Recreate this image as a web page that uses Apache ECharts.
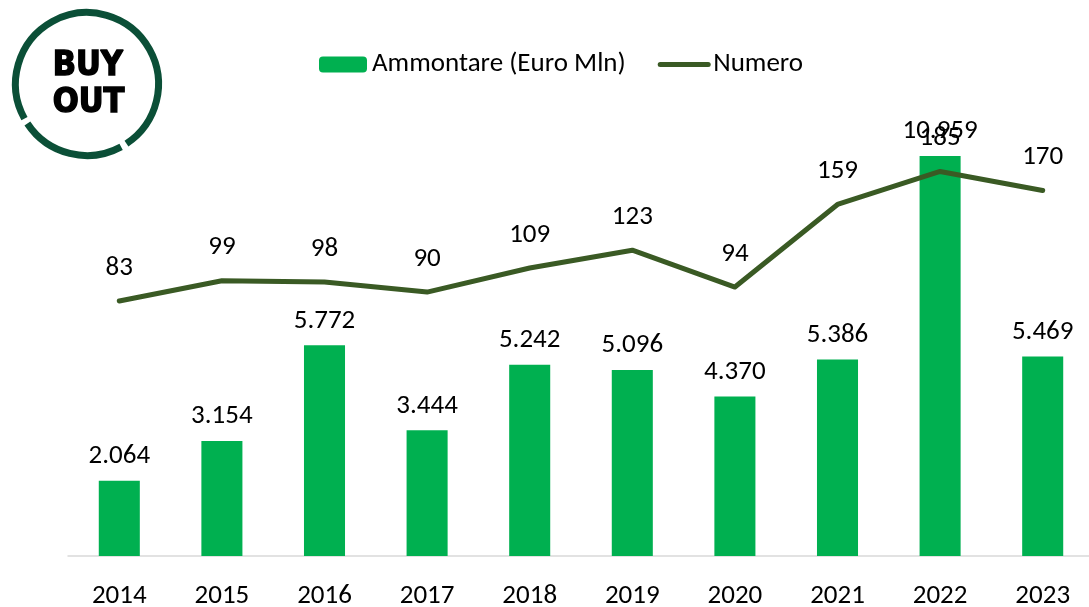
<!DOCTYPE html>
<html>
<head>
<meta charset="utf-8">
<script src="https://cdn.jsdelivr.net/npm/echarts@6/dist/echarts.min.js"></script>
<style>
  html, body { margin: 0; padding: 0; background: #fff; }
  #chart { width: 1089px; height: 607px; }
</style>
</head>
<body>
<div id="chart"></div>
<script>
var anni = ['2014', '2015', '2016', '2017', '2018', '2019', '2020', '2021', '2022', '2023'];
var ammontare = [2064, 3154, 5772, 3444, 5242, 5096, 4370, 5386, 10959, 5469];
var numero = [83, 99, 98, 90, 109, 123, 94, 159, 185, 170];

var FONT = 'Carlito, Calibri, Lato, sans-serif';
var FS = 27;
var VERDE = '#00b050';
var OLIVA = '#3a5a24';
var LOGO = '#0b4f37';

// formato italiano: 10959 -> 10.959
function migliaia(v) {
    return String(v).replace(/\B(?=(\d{3})+(?!\d))/g, '.');
}

var chart = echarts.init(document.getElementById('chart'));

chart.setOption({
    backgroundColor: '#fff',
    animation: false,
    textStyle: { fontFamily: FONT },
    legend: {
        top: 46,
        left: 314,
        itemWidth: 48,
        itemHeight: 16,
        itemGap: 32,
        textStyle: { fontSize: FS, color: '#000', fontFamily: FONT },
        data: [
            'Ammontare (Euro Mln)',
            { name: 'Numero', itemStyle: { opacity: 0 }, lineStyle: { width: 5, color: OLIVA, cap: 'round' } }
        ]
    },
    grid: { left: 68, right: -5, top: 118, bottom: 51, containLabel: false, outerBoundsMode: 'none' },
    xAxis: {
        type: 'category',
        data: anni,
        axisTick: { show: false },
        axisLine: { lineStyle: { color: '#d9d9d9', width: 1.5 } },
        axisLabel: { fontSize: FS, color: '#000', margin: 27, fontFamily: FONT }
    },
    yAxis: [
        { type: 'value', min: 0, max: 12000, show: false, splitLine: { show: false } },
        { type: 'value', min: -117.8, max: 227.1, show: false, splitLine: { show: false } }
    ],
    series: [
        {
            name: 'Ammontare (Euro Mln)',
            type: 'bar',
            data: ammontare,
            barWidth: '40%',
            itemStyle: { color: VERDE },
            label: {
                show: true,
                position: 'top',
                distance: 11,
                fontSize: FS,
                color: '#000',
                fontFamily: FONT,
                formatter: function (p) { return migliaia(p.value); }
            }
        },
        {
            name: 'Numero',
            type: 'line',
            yAxisIndex: 1,
            data: numero,
            symbol: 'circle',
            symbolSize: 1,
            lineStyle: { color: OLIVA, width: 5, cap: 'round', join: 'round' },
            itemStyle: { color: OLIVA },
            label: {
                show: true,
                position: 'top',
                distance: 19,
                fontSize: FS,
                color: '#000',
                fontFamily: FONT
            }
        }
    ],
    graphic: [
        // logo "BUY OUT"
        {
            type: 'arc',
            shape: { cx: 87, cy: 84, r: 71.5, startAngle: 151 * Math.PI / 180, endAngle: 416.5 * Math.PI / 180, clockwise: true },
            style: { stroke: LOGO, lineWidth: 7, fill: null }
        },
        {
            type: 'arc',
            shape: { cx: 87, cy: 84, r: 71.5, startAngle: 61.5 * Math.PI / 180, endAngle: 146.5 * Math.PI / 180, clockwise: true },
            style: { stroke: LOGO, lineWidth: 7, fill: null }
        },
        {
            type: 'text',
            left: 52,
            top: 48,
            style: {
                text: 'BUY\nOUT',
                fill: '#000',
                stroke: '#000',
                lineWidth: 1.4,
                font: '900 34px "Liberation Sans Narrow", "DejaVu Sans Condensed", sans-serif',
                lineHeight: 37,
                align: 'left'
            }
        }
    ]
});

window.onresize = chart.resize;
</script>
</body>
</html>
